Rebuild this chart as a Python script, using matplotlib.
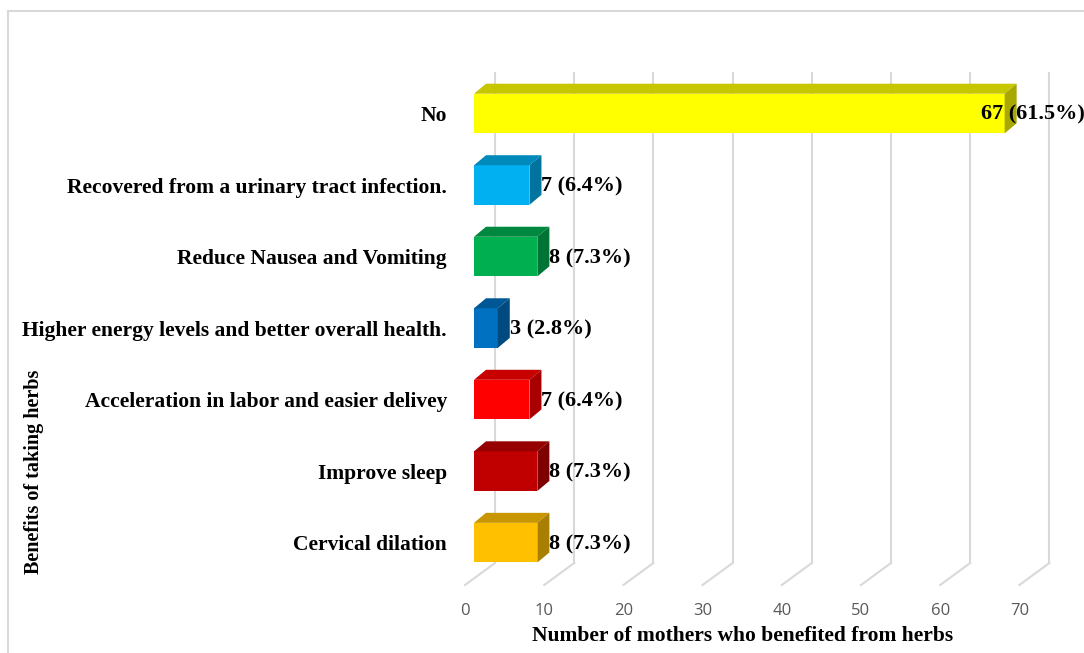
import matplotlib
matplotlib.use("Agg")
import matplotlib.pyplot as plt
from matplotlib.patches import Polygon
from matplotlib.lines import Line2D
import numpy as np

# ---- data ----
categories = [
    "Cervical dilation",
    "Improve sleep",
    "Acceleration in labor and easier delivey",
    "Higher energy levels and better overall health.",
    "Reduce Nausea and Vomiting",
    "Recovered from a urinary tract infection.",
    "No",
]
counts = [8, 8, 7, 3, 8, 7, 67]
percents = [7.3, 7.3, 6.4, 2.8, 7.3, 6.4, 61.5]
front_colors = ["#FFC000", "#C00000", "#FF0000", "#0070C0", "#00B050", "#00B0F0", "#FFFF00"]
x_ticks = [0, 10, 20, 30, 40, 50, 60, 70]

# ---- figure ----
W, H = 1084, 653
fig = plt.figure(figsize=(W / 100, H / 100), dpi=100)
fig.patch.set_facecolor("white")

# chart area border (light gray)
fig.add_artist(Line2D([8 / W, 8 / W], [0, 1 - 11 / H], transform=fig.transFigure,
                      color="#D9D9D9", lw=1.5))
fig.add_artist(Line2D([8 / W, 1], [1 - 11 / H, 1 - 11 / H], transform=fig.transFigure,
                      color="#D9D9D9", lw=1.5))

ax_left, ax_w = 465 / W, 554.4 / W
ax_bot, ax_h = (H - 585) / H, (585 - 42) / H
ax = fig.add_axes([ax_left, ax_bot, ax_w, ax_h])
ax.set_xlim(0, 70)
y_floor_front = -0.592
ax.set_ylim(y_floor_front, 7)
for s in ax.spines.values():
    s.set_visible(False)
ax.patch.set_visible(False)

# depth vector (data units) for the 3D look
Dx, Dy = 3.79, 0.308
t_front, t_back = 0.3, 0.7
grid_c = "#D9D9D9"
grid_top = 6.56

# back wall gridlines + floor diagonals
for v in x_ticks:
    ax.add_line(Line2D([v + Dx, v + Dx], [y_floor_front + Dy, grid_top], color=grid_c,
                       lw=1.5, clip_on=False, zorder=1))
    ax.add_line(Line2D([v, v + Dx], [y_floor_front, y_floor_front + Dy], color=grid_c,
                       lw=1.5, clip_on=False, zorder=1))


def shade(c, f):
    rgb = np.array(matplotlib.colors.to_rgb(c))
    return tuple(rgb * f)


bar_h = 0.554
x0 = t_front * Dx
ddx, ddy = (t_back - t_front) * Dx, 0.14
ys = np.arange(len(categories))
ax.barh(ys, counts, height=bar_h, left=x0, color=front_colors, edgecolor="none",
        zorder=3, clip_on=False)
for y, v, c in zip(ys, counts, front_colors):
    yt, yb = y + bar_h / 2, y - bar_h / 2
    top = Polygon([(x0, yt), (x0 + v, yt), (x0 + v + ddx, yt + ddy), (x0 + ddx, yt + ddy)],
                  closed=True, facecolor=shade(c, 0.78), edgecolor="none", zorder=3, clip_on=False)
    side = Polygon([(x0 + v, yb), (x0 + v, yt), (x0 + v + ddx, yt + ddy), (x0 + v + ddx, yb + ddy)],
                   closed=True, facecolor=shade(c, 0.66), edgecolor="none", zorder=3, clip_on=False)
    ax.add_patch(top)
    ax.add_patch(side)

# value labels
serif = ["Liberation Serif", "DejaVu Serif"]
x_right_limit = (1085 - 465) / 7.92
for y, v, p in zip(ys, counts, percents):
    txt = f"{v} ({p}%)"
    xl = x0 + v + ddx
    if v > 60:
        ax.text(x_right_limit, y - 0.02, txt, ha="right", va="center", fontsize=16,
                fontweight="bold", family=serif, zorder=5, clip_on=False)
    else:
        ax.text(xl, y - 0.02, txt, ha="left", va="center", fontsize=16,
                fontweight="bold", family=serif, zorder=5, clip_on=False)

# axes ticks
ax.set_yticks(ys)
ax.set_yticklabels(categories, fontsize=15.5, fontweight="bold", family=serif)
ax.tick_params(axis="y", length=0, pad=13)
ax.set_xticks(x_ticks)
ax.set_xticklabels([str(t) for t in x_ticks], fontsize=12, color="#595959",
                   family=["Open Sans", "DejaVu Sans"])
ax.tick_params(axis="x", length=0, pad=13)

ax.set_xlabel("Number of mothers who benefited from herbs", fontsize=15.5,
              fontweight="bold", family=serif, labelpad=5)
ax.set_ylabel("Benefits of taking herbs", fontsize=14.5, fontweight="bold", family=serif)
ax.yaxis.set_label_coords((44 - 465) / 554.4, (585 - 472) / 543)

fig.savefig("out.png", dpi=100, facecolor="white")
